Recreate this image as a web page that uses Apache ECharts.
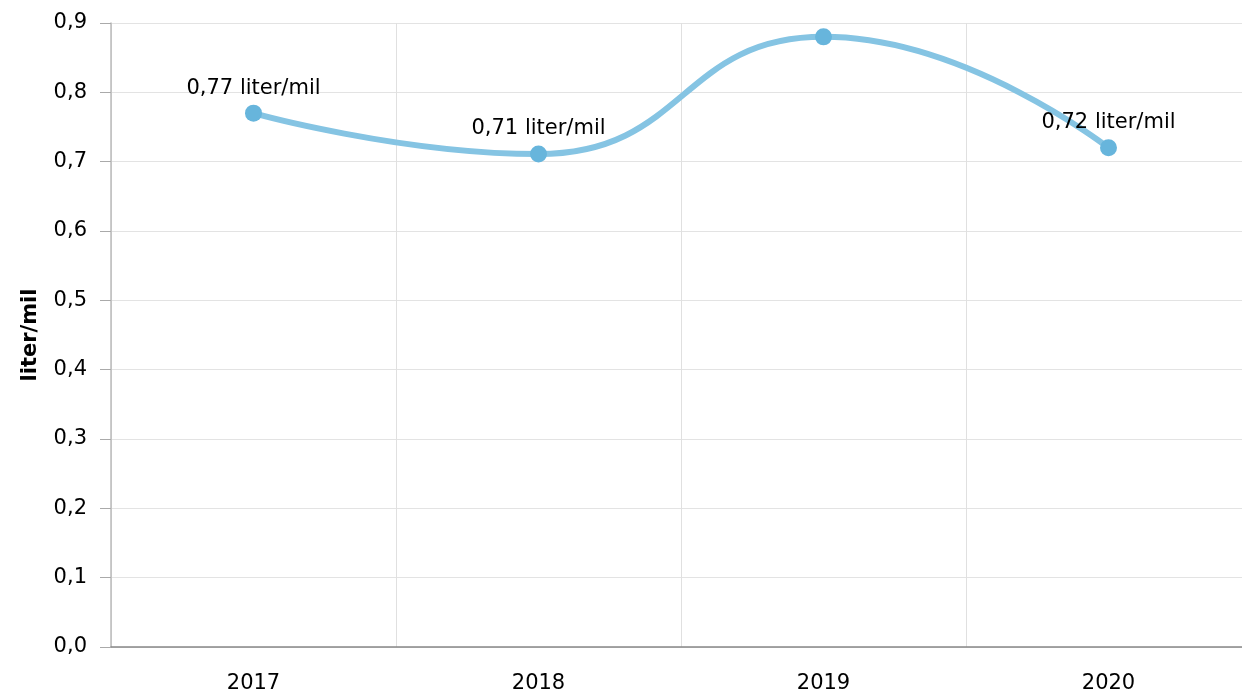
<!DOCTYPE html>
<html>
<head>
<meta charset="utf-8">
<script src="https://cdn.jsdelivr.net/npm/echarts@6/dist/echarts.min.js"></script>
<style>
  html, body { margin: 0; padding: 0; background: #fff; }
  #chart { width: 1242px; height: 695px; }
</style>
</head>
<body>
<div id="chart"></div>
<script>
const years = ['2017', '2018', '2019', '2020'];
const values = [0.77, 0.711, 0.88, 0.72];
const showLabel = [true, true, false, true];
const unit = 'liter/mil';

const fmt = v => v.toFixed(2).replace('.', ',');

const chart = echarts.init(document.getElementById('chart'), null, { renderer: 'canvas' });

const option = {
    animation: false,
    textStyle: { fontFamily: 'DejaVu Sans' },
    grid: { left: 111, width: 1140, top: 23, bottom: 48, outerBoundsMode: 'none' },
    xAxis: {
        type: 'category',
        data: years,
        boundaryGap: true,
        axisLine: { lineStyle: { color: '#888', width: 1.5 } },
        axisTick: { alignWithLabel: true, length: 7, lineStyle: { color: '#aaa' } },
        axisLabel: { color: '#000', fontSize: 21, margin: 26, fontFamily: 'DejaVu Sans' },
        splitLine: { show: true, lineStyle: { color: '#e0e0e0' } }
    },
    yAxis: {
        type: 'value',
        min: 0,
        max: 0.9,
        interval: 0.1,
        name: unit,
        nameLocation: 'middle',
        nameGap: 70,
        nameTextStyle: { color: '#000', fontSize: 21, fontWeight: 'bold', fontFamily: 'DejaVu Sans' },
        axisLine: { show: true, lineStyle: { color: '#bbb', width: 1.5 } },
        axisTick: { show: true, length: 11, lineStyle: { color: '#aaa' } },
        axisLabel: {
            color: '#000', fontSize: 21, margin: 24, fontFamily: 'DejaVu Sans',
            formatter: v => v.toFixed(1).replace('.', ',')
        },
        splitLine: { lineStyle: { color: '#e3e3e3' } }
    },
    series: [{
        type: 'line',
        smooth: 0.5,
        data: values.map((v, i) => ({
            value: v,
            label: { show: showLabel[i] }
        })),
        symbol: 'circle',
        symbolSize: 17,
        itemStyle: { color: '#67b5dc' },
        lineStyle: { color: '#85c4e3', width: 6 },
        label: {
            position: 'top',
            distance: 6,
            color: '#000',
            fontSize: 21,
            fontFamily: 'DejaVu Sans',
            formatter: p => fmt(p.value) + ' ' + unit
        }
    }]
};

chart.setOption(option);
</script>
</body>
</html>
